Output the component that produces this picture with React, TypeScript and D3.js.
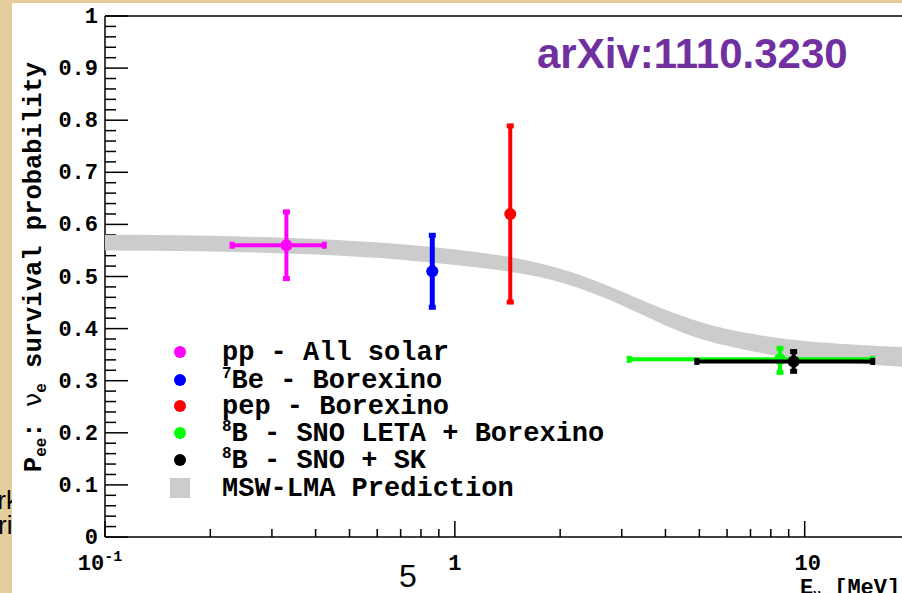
import React from 'react'
import * as d3 from 'd3'

// measured points (energy in MeV, survival probability)
const seriesNames = ['pp - All solar', '7Be - Borexino', 'pep - Borexino', '8B - SNO LETA + Borexino', '8B - SNO + SK']
const seriesColors = ['#ff00ff', '#0000ff', '#ff0000', '#00ff00', '#000000']
const energy = [0.33, 0.862, 1.44, 8.5, 9.3]
const energyLow = [0.23, 0.862, 1.44, 3.14, 4.9]
const energyHigh = [0.425, 0.862, 1.44, 15.7, 15.7]
const pee = [0.56, 0.51, 0.62, 0.341, 0.337]
const peeLow = [0.495, 0.44, 0.45, 0.315, 0.317]
const peeHigh = [0.625, 0.58, 0.79, 0.363, 0.357]

// MSW-LMA prediction band
const bandEnergy = [0.1, 0.2, 0.4, 0.7, 1.0, 1.5, 2.0, 2.5, 3.0, 3.5, 4.0, 5.0, 6.0, 8.0, 10, 14, 20]
const bandHigh = [0.58, 0.578, 0.572, 0.562, 0.552, 0.535, 0.515, 0.493, 0.471, 0.452, 0.436, 0.413, 0.399, 0.384, 0.376, 0.369, 0.364]
const bandLow = [0.55, 0.548, 0.542, 0.532, 0.522, 0.507, 0.489, 0.467, 0.445, 0.424, 0.406, 0.381, 0.367, 0.35, 0.342, 0.333, 0.326]

const yTickLabels = ['0', '0.1', '0.2', '0.3', '0.4', '0.5', '0.6', '0.7', '0.8', '0.9', '1']
const xLabelValues = [0.1, 1, 10]

const mono = '"Liberation Mono", "Courier New", monospace'
const sans = '"Liberation Sans", Arial, sans-serif'

export default function App() {
  const x = d3.scaleLog().domain([0.1, 20]).range([105, 910])
  const y = d3.scaleLinear().domain([0, 1]).range([537, 16])

  const bandData = bandEnergy.map((e, i) => ({ e, lo: bandLow[i], hi: bandHigh[i] }))
  const bandPath = d3.area<{ e: number; lo: number; hi: number }>()
    .x(d => x(d.e))
    .y0(d => y(d.lo))
    .y1(d => y(d.hi))
    .curve(d3.curveMonotoneX)(bandData)

  const yTicks = y.ticks(50)
  const xTicks = x.ticks()

  const legendRows = [352, 380, 406, 433, 460, 488]

  return (
    <svg width={902} height={593} style={{ position: 'fixed', left: 0, top: 0 }}>
      {/* slide background */}
      <rect x={0} y={0} width={902} height={593} fill="#e4cd9c" />
      <text x={19} y={509} textAnchor="end" fontFamily={sans} fontSize={26} fill="#000">rk</text>
      <text x={12.5} y={534} textAnchor="end" fontFamily={sans} fontSize={26} fill="#000">ri</text>
      <rect x={12} y={3} width={890} height={590} fill="#ffffff" />

      {/* frame */}
      <line x1={x(0.1)} x2={x(20)} y1={y(1)} y2={y(1)} stroke="#000" strokeWidth={1.5} />
      <line x1={x(0.1)} x2={x(0.1)} y1={y(0)} y2={y(1)} stroke="#000" strokeWidth={1.5} />
      <line x1={x(0.1)} x2={x(20)} y1={y(0)} y2={y(0)} stroke="#000" strokeWidth={1.5} />

      {/* y ticks */}
      {yTicks.map((t, i) => (
        <line key={'yt' + i} x1={x(0.1)} x2={x(0.1) + (i % 5 === 0 ? 23 : 11)} y1={y(t)} y2={y(t)}
          stroke="#000" strokeWidth={1.5} />
      ))}
      {yTickLabels.map((l, i) => (
        <text key={'yl' + i} x={98} y={y(i / 10) + 7} textAnchor="end" fontFamily={mono}
          fontWeight="bold" fontSize={22}>{l}</text>
      ))}

      {/* x ticks */}
      {xTicks.map((t, i) => {
        const major = Math.abs(Math.log10(t) - Math.round(Math.log10(t))) < 1e-6
        return (
          <line key={'xt' + i} x1={x(t)} x2={x(t)} y1={y(0)} y2={y(0) - (major ? 16 : 8)}
            stroke="#000" strokeWidth={1.5} />
        )
      })}
      {xLabelValues.map((v, i) => (
        <text key={'xl' + i} x={x(v) + (v === 0.1 ? -5 : v === 10 ? 3 : 0)} y={570} textAnchor="middle"
          fontFamily={mono} fontWeight="bold" fontSize={22}>
          {v === 0.1 ? (<>10<tspan fontSize={15} dy={-9}>-1</tspan></>) : String(v)}
        </text>
      ))}

      {/* axis titles */}
      <text transform="translate(41,267) rotate(-90)" textAnchor="middle" fontFamily={mono}
        fontWeight="bold" fontSize={25.5}>
        P<tspan fontSize={16} dy={5}>ee</tspan><tspan dy={-5}>: </tspan>
        <tspan fontFamily="'DejaVu Sans', sans-serif" fontWeight="normal">ν</tspan>
        <tspan fontSize={16} dy={5}>e</tspan><tspan dy={-5}> survival probability</tspan>
      </text>
      <text x={800} y={594} fontFamily={mono} fontWeight="bold" fontSize={22}>
        E<tspan fontSize={13} dy={4}>ν</tspan><tspan dy={-4}> [MeV]</tspan>
      </text>

      {/* prediction band */}
      <path d={bandPath || ''} fill="#cccccc" />

      {/* data points */}
      {energy.map((e, i) => {
        const c = seriesColors[i]
        const cx = x(e)
        const cy = y(pee[i])
        const hasX = energyLow[i] !== energyHigh[i]
        return (
          <g key={'p' + i}>
            {hasX && (
              <>
                <line x1={x(energyLow[i])} x2={x(energyHigh[i])} y1={cy} y2={cy} stroke={c} strokeWidth={4} />
                <rect x={x(energyLow[i]) - 2} y={cy - 3.5} width={5} height={7} fill={c} />
                <rect x={x(energyHigh[i]) - 3} y={cy - 3.5} width={5} height={7} fill={c} />
              </>
            )}
            <line x1={cx} x2={cx} y1={y(peeLow[i])} y2={y(peeHigh[i])} stroke={c} strokeWidth={i === 1 ? 5 : 4} />
            <rect x={cx - 3.5} y={y(peeHigh[i]) - 2} width={7} height={5} fill={c} />
            <rect x={cx - 3.5} y={y(peeLow[i]) - 3} width={7} height={5} fill={c} />
            <circle cx={cx} cy={cy} r={6} fill={c} />
          </g>
        )
      })}

      {/* legend */}
      {seriesNames.map((name, i) => {
        const sup = /^\d/.test(name) ? name[0] : ''
        const rest = sup ? name.slice(1) : name
        return (
          <g key={'lg' + i}>
            <circle cx={180} cy={legendRows[i]} r={6} fill={seriesColors[i]} />
            <text x={222} y={legendRows[i] + 8} fontFamily={mono} fontWeight="bold" fontSize={27}>
              {sup && <tspan fontSize={16} dy={-10}>{sup}</tspan>}
              <tspan dy={sup ? 10 : 0}>{rest}</tspan>
            </text>
          </g>
        )
      })}
      <rect x={170} y={legendRows[5] - 10} width={20} height={20} fill="#cccccc" />
      <text x={222} y={legendRows[5] + 8} fontFamily={mono} fontWeight="bold" fontSize={27}>MSW-LMA Prediction</text>

      {/* annotations */}
      <text x={537} y={68} fontFamily={sans} fontWeight="bold" fontSize={42} fill="#7030a0">arXiv:1110.3230</text>
      <text x={408} y={587} textAnchor="middle" fontFamily={sans} fontSize={32} fill="#000">5</text>
    </svg>
  )
}
